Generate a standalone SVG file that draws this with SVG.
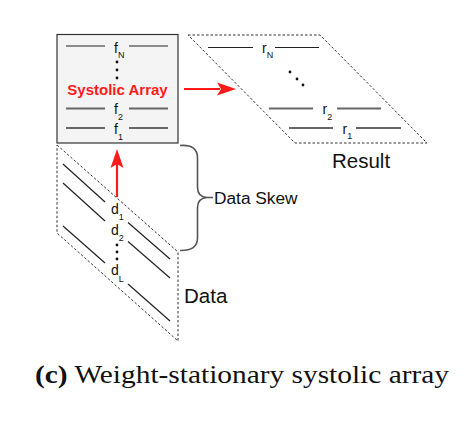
<svg xmlns="http://www.w3.org/2000/svg" width="464" height="429" viewBox="0 0 464 429">
<defs>
<style>
.t{font-family:"Liberation Sans",Arial,sans-serif;fill:#111}
.s{font-size:14px}
.sub{font-size:9px;fill:#111}
.ln{stroke:#222;stroke-width:1.2;fill:none}
.lg{stroke:#666;stroke-width:1.8;fill:none}
.dash{stroke:#333;stroke-width:1;fill:none;stroke-dasharray:2.5,2}
.dot{fill:#111}
.red{stroke:#ff1a1a;stroke-width:2.2;fill:none}
</style>
</defs>
<rect width="464" height="429" fill="#fff"/>
<g id="systolic-array">
<rect x="57" y="34.5" width="121" height="108.5" fill="#f4f4f4" stroke="#333" stroke-width="1.2"/>
<line class="ln" x1="66" y1="46" x2="105" y2="46"/><line class="ln" x1="129" y1="46" x2="168" y2="46"/>
<text class="t s" x="114" y="53">f<tspan class="sub" dy="4.5">N</tspan></text>
<circle class="dot" cx="117" cy="62" r="1.4"/><circle class="dot" cx="117" cy="70" r="1.4"/><circle class="dot" cx="117" cy="78" r="1.4"/>
<text x="117.5" y="95" text-anchor="middle" font-family="Liberation Sans,Arial,sans-serif" font-weight="bold" font-size="15" fill="#ff1a1a">Systolic Array</text>
<line class="lg" x1="66" y1="108.5" x2="105" y2="108.5"/><line class="lg" x1="129" y1="108.5" x2="168" y2="108.5"/>
<text class="t s" x="114" y="114">f<tspan class="sub" dy="5.5">2</tspan></text>
<line class="lg" x1="66" y1="128" x2="105" y2="128"/><line class="lg" x1="129" y1="128" x2="168" y2="128"/>
<text class="t s" x="114" y="134">f<tspan class="sub" dy="5.5">1</tspan></text>
</g>
<g id="result">
<polygon class="dash" points="188,35 320,35 427,143 295,143"/>
<line class="ln" x1="208" y1="47.5" x2="253" y2="47.5"/><line class="ln" x1="275" y1="47.5" x2="319" y2="47.5"/>
<text class="t s" x="262" y="53">r<tspan class="sub" dy="4.5">N</tspan></text>
<circle class="dot" cx="290" cy="72" r="1.4"/><circle class="dot" cx="297" cy="79" r="1.4"/><circle class="dot" cx="303" cy="85" r="1.4"/>
<line class="lg" x1="269" y1="108.5" x2="313" y2="108.5"/><line class="lg" x1="337" y1="108.5" x2="381" y2="108.5"/>
<text class="t s" x="322.5" y="114">r<tspan class="sub" dy="5.5">2</tspan></text>
<line class="lg" x1="289" y1="128" x2="333" y2="128"/><line class="lg" x1="356" y1="128" x2="401" y2="128"/>
<text class="t s" x="342.5" y="133.5">r<tspan class="sub" dy="5.5">1</tspan></text>
<text class="t" x="332" y="168" font-size="20.5">Result</text>
</g>
<g id="data">
<polygon class="dash" points="57,145 178,252 178,341 57,233"/>
<line class="ln" x1="63" y1="164" x2="105" y2="202"/><line class="ln" x1="128" y1="222.5" x2="170" y2="259"/>
<line class="ln" x1="63" y1="183" x2="105" y2="221"/><line class="ln" x1="128" y1="241.5" x2="170" y2="278"/>
<line class="ln" x1="63" y1="226" x2="105" y2="263"/><line class="ln" x1="128" y1="284" x2="170" y2="321"/>
<text class="t s" x="111" y="214">d<tspan class="sub" dy="6">1</tspan></text>
<text class="t s" x="111" y="234.5">d<tspan class="sub" dy="6">2</tspan></text>
<circle class="dot" cx="117" cy="245" r="1.4"/><circle class="dot" cx="117" cy="252" r="1.4"/><circle class="dot" cx="117" cy="259" r="1.4"/>
<text class="t s" x="111" y="275">d<tspan class="sub" dy="6.5">L</tspan></text>
<text class="t" x="184" y="303" font-size="20.5">Data</text>
</g>
<g id="data-skew">
<path d="M180,145.5 Q197.5,144 197.5,158 L197.5,187 Q197.5,197 207,197.5 L213,197.5 M207,197.5 Q197.5,198 197.5,208 L197.5,238 Q197.5,251 180,250.5" fill="none" stroke="#555" stroke-width="1.6"/>
<text class="t" x="214" y="204" font-size="17.3">Data Skew</text>
</g>
<g id="connectors">
<line class="red" x1="184" y1="89" x2="220" y2="89"/>
<polygon points="236,89 217,82.5 221,89 217,95.5" fill="#ff1a1a"/>
<line class="red" x1="117" y1="197" x2="117" y2="164"/>
<polygon points="117,149 110.5,168 117,164 123.5,168" fill="#ff1a1a"/>
</g>
<g id="caption">
<text x="35" y="383" font-family="Liberation Serif,'Times New Roman',serif" font-size="25.5" fill="#111" textLength="414" lengthAdjust="spacingAndGlyphs"><tspan font-weight="bold">(c)</tspan> Weight-stationary systolic array</text>
</g>
</svg>
